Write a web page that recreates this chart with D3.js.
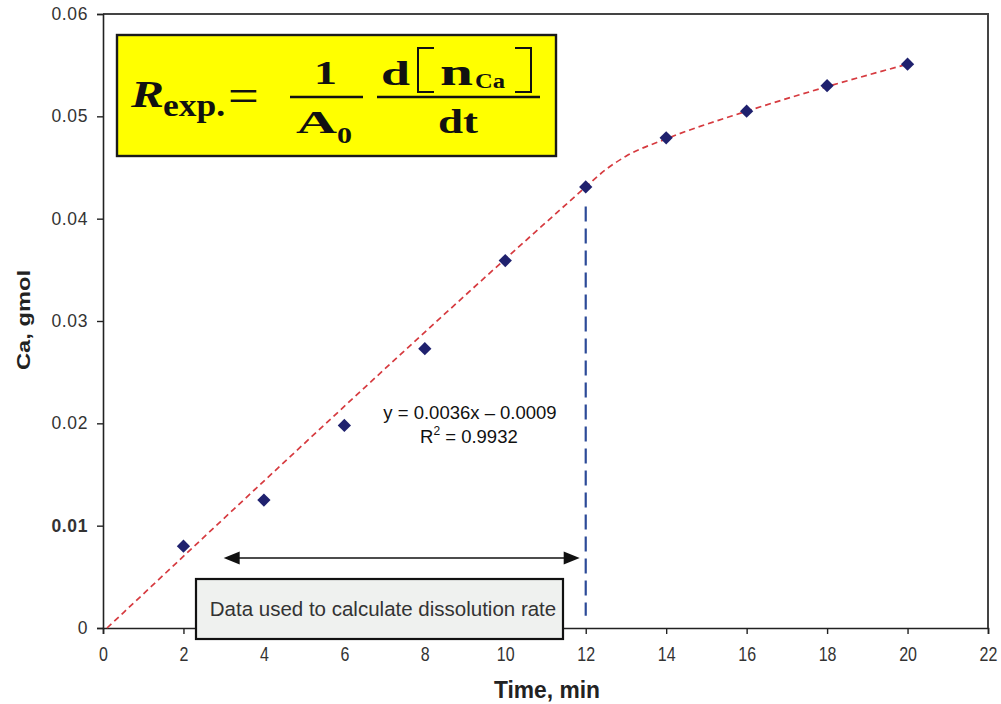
<!DOCTYPE html>
<html>
<head>
<meta charset="utf-8">
<script src="https://cdn.jsdelivr.net/npm/d3@7"></script>
<style>
  body { margin: 0; background: #fff; }
  svg { display: block; }
</style>
</head>
<body>
<svg id="chart" width="1001" height="704"></svg>
<script>
// Measured calcium release over time
const timeMin = [2, 4, 6, 8, 10, 12, 14, 16, 18, 20];
const caGmol  = [0.0080, 0.0125, 0.0198, 0.0273, 0.0359, 0.0431, 0.0479, 0.0505, 0.0530, 0.0551];

// Trend line: straight through the linear region, then bending over
const trendTime = [0.1, 11.5, 12, 12.5, 13, 14, 16, 18, 20];
const trendCa   = [0, 0.04135, 0.0431, 0.0448, 0.0461, 0.0478, 0.0505, 0.0529, 0.0551];

// Axis ticks
const xTicks = [0, 2, 4, 6, 8, 10, 12, 14, 16, 18, 20, 22];
const yTicks = [0, 0.01, 0.02, 0.03, 0.04, 0.05, 0.06];
const yTickLabels = ["0", "0.01", "0.02", "0.03", "0.04", "0.05", "0.06"];

// Linear fit annotation and the window of data used for the rate
const fitLines = ["y = 0.0036x \u2013 0.0009", "R", "2", " = 0.9932"];
const rateWindow = [3.0, 11.85];
const cutoffTime = 12;
const cutoffSpan = [0.0012, 0.0412];
const noteText = "Data used to calculate dissolution rate";

const svg = d3.select("#chart");
const x = d3.scaleLinear().domain([0, 22]).range([103, 988]);
const y = d3.scaleLinear().domain([0, 0.06]).range([628, 14]);

const axisFont = "Arial, 'Liberation Sans', Helvetica, sans-serif";

// Plot frame: top and right edges
svg.append("path")
  .attr("d", `M${x(0)},${y(0.06)}H${x(22)}V${y(0)}`)
  .attr("fill", "none").attr("stroke", "#444").attr("stroke-width", 2);

// Y axis
const yAxis = svg.append("g")
  .attr("transform", `translate(${x(0)},0)`)
  .call(d3.axisLeft(y).tickValues(yTicks).tickSize(6).tickPadding(9)
    .tickFormat((d, i) => yTickLabels[i]));
yAxis.select(".domain").attr("stroke", "#222").attr("stroke-width", 1.6);
yAxis.selectAll(".tick line").attr("stroke", "#222").attr("stroke-width", 1.4);
yAxis.selectAll(".tick text")
  .attr("font-family", axisFont).attr("font-size", 17.5).attr("fill", "#333")
  .attr("letter-spacing", 0.6)
  .attr("font-weight", (d) => d === 0.01 ? "bold" : "normal");

// X axis (condensed labels)
const xAxis = svg.append("g")
  .attr("transform", `translate(0,${y(0)})`)
  .call(d3.axisBottom(x).tickValues(xTicks).tickSize(6).tickPadding(13)
    .tickFormat(d3.format("d")));
xAxis.select(".domain").attr("stroke", "#222").attr("stroke-width", 1.6);
xAxis.selectAll(".tick line").attr("stroke", "#222").attr("stroke-width", 1.4);
xAxis.selectAll(".tick text")
  .attr("font-family", axisFont)
  .attr("font-size", 20).attr("fill", "#333")
  .attr("transform", "scale(0.8,1)");

// Axis titles
svg.append("text")
  .attr("x", 547).attr("y", 698)
  .attr("text-anchor", "middle")
  .attr("font-family", axisFont).attr("font-weight", "bold")
  .attr("font-size", 23).attr("fill", "#222")
  .attr("textLength", 106).attr("lengthAdjust", "spacingAndGlyphs")
  .text("Time, min");

svg.append("text")
  .attr("transform", `translate(30,${y(0.03) - 1}) rotate(-90)`)
  .attr("text-anchor", "middle")
  .attr("font-family", axisFont).attr("font-weight", "bold")
  .attr("font-size", 18.5).attr("fill", "#222")
  .attr("textLength", 100).attr("lengthAdjust", "spacingAndGlyphs")
  .text("Ca, gmol");

// Trend curve (red dashed)
const trend = trendTime.map((t, i) => [t, trendCa[i]]);
svg.append("path")
  .datum(trend)
  .attr("d", d3.line().x(d => x(d[0])).y(d => y(d[1])).curve(d3.curveMonotoneX))
  .attr("fill", "none").attr("stroke", "#d63a3f")
  .attr("stroke-width", 1.7).attr("stroke-dasharray", "6,4");

// Cutoff marker at the end of the linear region
svg.append("line")
  .attr("x1", x(cutoffTime)).attr("x2", x(cutoffTime))
  .attr("y1", y(cutoffSpan[1])).attr("y2", y(cutoffSpan[0]))
  .attr("stroke", "#2c4a98").attr("stroke-width", 2.2)
  .attr("stroke-dasharray", "15,7");

// Data points (diamonds)
const diamond = d3.symbol().type(d3.symbolSquare).size(88);
svg.append("g").selectAll("path")
  .data(timeMin.map((t, i) => [t, caGmol[i]]))
  .join("path")
  .attr("d", diamond)
  .attr("transform", d => `translate(${x(d[0])},${y(d[1])}) rotate(45)`)
  .attr("fill", "#1f216e");

// Fit equation
svg.append("text")
  .attr("font-family", axisFont).attr("font-size", 18.5).attr("fill", "#111")
  .attr("text-anchor", "middle")
  .attr("x", 470).attr("y", 419).text(fitLines[0]);
const r2 = svg.append("text")
  .attr("font-family", axisFont).attr("font-size", 18.5).attr("fill", "#111")
  .attr("x", 420).attr("y", 443);
r2.append("tspan").text(fitLines[1]);
r2.append("tspan").attr("dy", -8).attr("font-size", 12).text(fitLines[2]);
r2.append("tspan").attr("dy", 8).text(fitLines[3]);

// Double-headed arrow over the rate window
const arrowY = 558;
const ax0 = x(rateWindow[0]), ax1 = x(rateWindow[1]);
svg.append("line")
  .attr("x1", ax0 + 10).attr("x2", ax1 - 10)
  .attr("y1", arrowY).attr("y2", arrowY)
  .attr("stroke", "#111").attr("stroke-width", 1.6);
svg.append("path")
  .attr("d", `M${ax0},${arrowY}l16,-6.5v13z M${ax1},${arrowY}l-16,-6.5v13z`)
  .attr("fill", "#111");

// Note box
svg.append("rect")
  .attr("x", 196).attr("y", 579).attr("width", 367).attr("height", 60)
  .attr("fill", "#eff1ef").attr("stroke", "#111").attr("stroke-width", 2.2);
svg.append("text")
  .attr("x", 383).attr("y", 616)
  .attr("text-anchor", "middle")
  .attr("font-family", axisFont).attr("font-size", 20.5).attr("fill", "#333")
  .text(noteText);

// Rate equation panel
const eq = svg.append("g");
eq.append("rect")
  .attr("x", 117).attr("y", 35).attr("width", 439).attr("height", 121)
  .attr("fill", "#ffff00").attr("stroke", "#1a1a1a").attr("stroke-width", 2.4);

const serif = "'Liberation Serif', 'Times New Roman', Times, serif";
// place a piece of the formula so that it spans [x0, x0 + w] on the baseline
function eqText(x0, base, size, w, str, italic, weight) {
  return eq.append("text")
    .attr("x", x0).attr("y", base)
    .attr("font-family", serif).attr("font-size", size)
    .attr("font-weight", weight || "bold")
    .attr("font-style", italic ? "italic" : "normal")
    .attr("fill", "#111")
    .attr("textLength", w).attr("lengthAdjust", "spacingAndGlyphs")
    .text(str);
}
eqText(131, 107, 38, 33, "R", true);
eqText(163, 116, 31, 62, "exp.");
eqText(228, 112, 48, 31, "=", false, "normal");
eqText(314, 84, 33, 23, "1");
eqText(296, 133, 32, 41, "A");
eqText(337, 143, 23, 15, "0");
eqText(381, 85, 34, 29, "d");
eqText(440, 85, 37, 33, "n");
eqText(475, 88, 20, 30, "Ca");
eqText(438, 133, 33, 40, "dt");

// fraction bars
eq.append("line").attr("x1", 290).attr("x2", 363).attr("y1", 97).attr("y2", 97)
  .attr("stroke", "#111").attr("stroke-width", 2.4);
eq.append("line").attr("x1", 377).attr("x2", 540).attr("y1", 97).attr("y2", 97)
  .attr("stroke", "#111").attr("stroke-width", 2.4);
// square brackets around n_Ca
eq.append("path").attr("d", "M434,48H418V92H434").attr("fill", "none")
  .attr("stroke", "#111").attr("stroke-width", 2);
eq.append("path").attr("d", "M515,48H531V92H515").attr("fill", "none")
  .attr("stroke", "#111").attr("stroke-width", 2);
</script>
</body>
</html>
